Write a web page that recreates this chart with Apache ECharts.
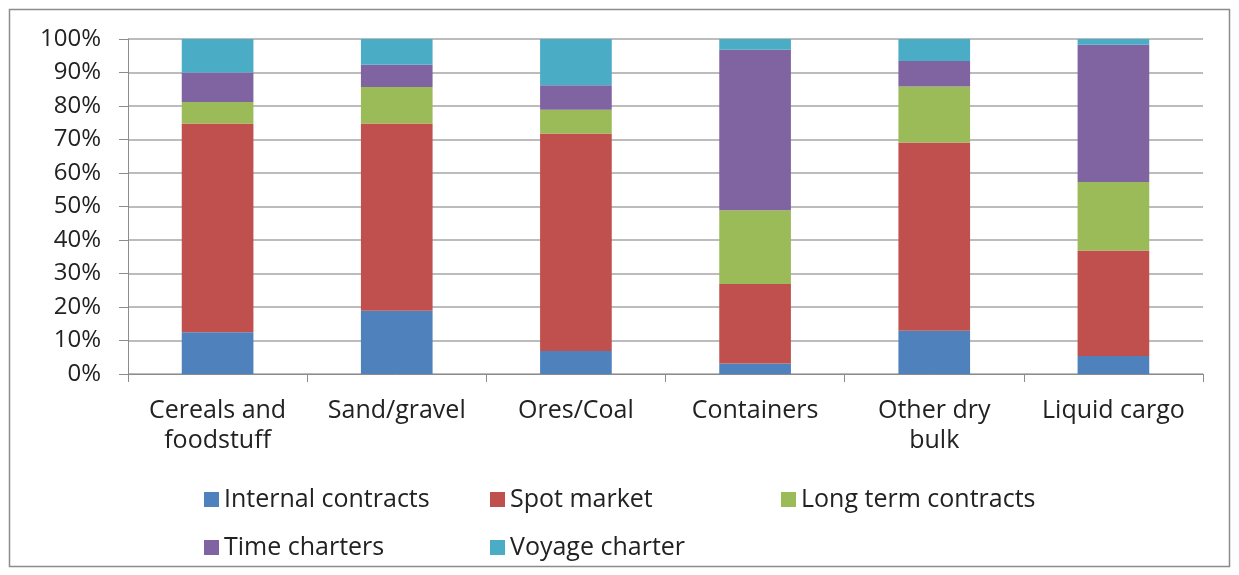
<!DOCTYPE html>
<html lang="en">
<head>
    <meta charset="UTF-8">
    <title>Contract types by cargo</title>
    <script src="https://cdn.jsdelivr.net/npm/echarts@6/dist/echarts.min.js"></script>
    <style>
        body { margin: 0; padding: 0; background: #fff; }
        #chart { width: 1239px; height: 575px; }
    </style>
</head>
<body>
<div id="chart"></div>
<script>
    const categories = ['Cereals and\nfoodstuff', 'Sand/gravel', 'Ores/Coal', 'Containers', 'Other dry\nbulk', 'Liquid cargo'];
    const internalContracts = [12.5, 18.9, 6.9, 3.1, 12.9, 5.4];
    const spotMarket = [62.3, 55.9, 64.9, 23.8, 56.2, 31.5];
    const longTermContracts = [6.4, 10.9, 7.1, 22.0, 16.7, 20.4];
    const timeCharters = [8.8, 6.6, 7.3, 47.9, 7.6, 41.0];
    const voyageCharter = [10.0, 7.7, 13.8, 3.2, 6.6, 1.7];
    const yTicks = [0, 10, 20, 30, 40, 50, 60, 70, 80, 90, 100];

    const seriesDefs = [
        { name: 'Internal contracts', data: internalContracts, color: '#4F81BD' },
        { name: 'Spot market', data: spotMarket, color: '#C0504D' },
        { name: 'Long term contracts', data: longTermContracts, color: '#9BBB59' },
        { name: 'Time charters', data: timeCharters, color: '#8064A2' },
        { name: 'Voyage charter', data: voyageCharter, color: '#4BACC6' }
    ];
    // legend positions (three columns, two rows)
    const legendPos = [[199, 482], [485, 482], [776, 482], [199, 530], [485, 530]];

    const font = '"Open Sans", sans-serif';
    const chart = echarts.init(document.getElementById('chart'));
    chart.setOption({
        animation: false,
        textStyle: { fontFamily: font },
        graphic: [{
            type: 'rect',
            shape: { x: 9.5, y: 9.5, width: 1220, height: 557 },
            style: { fill: 'none', stroke: '#8c8c8c', lineWidth: 1.5 },
            silent: true
        }],
        legend: seriesDefs.map((s, i) => ({
            data: [s.name],
            left: legendPos[i][0],
            top: legendPos[i][1],
            icon: 'rect',
            itemWidth: 15,
            itemHeight: 15,
            itemGap: 8,
            textStyle: { fontSize: 25, color: '#222', fontFamily: font }
        })),
        grid: { left: 128, right: 36, top: 39, bottom: 201, containLabel: false },
        xAxis: {
            type: 'category',
            data: categories,
            axisLine: { lineStyle: { color: '#8c8c8c', width: 1 } },
            axisTick: { show: true, length: 8, lineStyle: { color: '#8c8c8c' } },
            axisLabel: { fontSize: 25, color: '#222', margin: 22, lineHeight: 30, interval: 0 }
        },
        yAxis: {
            type: 'value',
            min: yTicks[0],
            max: yTicks[yTicks.length - 1],
            interval: 10,
            axisLine: { show: true, lineStyle: { color: '#8c8c8c' } },
            axisTick: { show: true, length: 9, lineStyle: { color: '#8c8c8c' } },
            axisLabel: { formatter: '{value}%', fontSize: 24, color: '#222', margin: 27 },
            splitLine: { lineStyle: { color: '#a6a6a6', width: 1.5 } }
        },
        series: seriesDefs.map(s => ({
            name: s.name,
            type: 'bar',
            stack: 'total',
            barWidth: '40%',
            data: s.data,
            itemStyle: { color: s.color }
        }))
    });
</script>
</body>
</html>
